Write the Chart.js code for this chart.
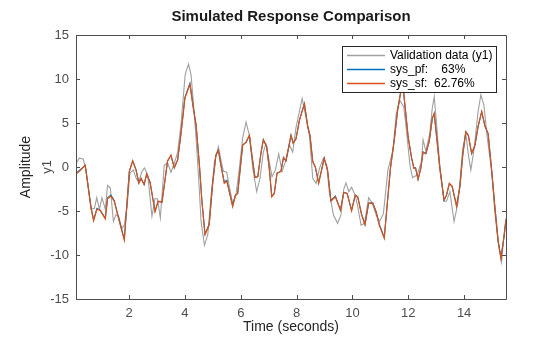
<!DOCTYPE html>
<html>
<head>
<meta charset="utf-8">
<style>
html,body{margin:0;padding:0;background:#fff;}
</style>
<script src="https://cdn.jsdelivr.net/npm/chart.js@4.4.1/dist/chart.umd.min.js"></script>
</head>
<body>
<canvas id="c" width="560" height="337"></canvas>
<script>
const FONT = "'Liberation Sans', Arial, Helvetica, sans-serif";

/* DATA */
const chartTitle = 'Simulated Response Comparison';
const xTicks = [2, 4, 6, 8, 10, 12, 14];
const yTicks = [-15, -10, -5, 0, 5, 10, 15];

const valTime = [
  0.1, 0.22, 0.36, 0.46, 0.64, 0.76, 0.84, 0.94, 1.03, 1.15, 1.23, 1.33, 1.44, 1.53, 1.63, 1.74, 1.83, 1.93,
  2.03, 2.15, 2.27, 2.35, 2.45, 2.55, 2.67, 2.82, 2.93, 3.02, 3.12, 3.26, 3.38, 3.5, 3.62, 3.74, 3.86,
  4.01, 4.13, 4.22, 4.3, 4.4, 4.5, 4.58, 4.7, 4.82, 4.94, 5.06, 5.2, 5.29, 5.38, 5.5, 5.59, 5.71, 5.83, 5.95,
  6.07, 6.19, 6.31, 6.43, 6.57, 6.69, 6.81, 6.9, 7.0, 7.12, 7.24, 7.36, 7.48, 7.6, 7.74, 7.86, 7.98,
  8.2, 8.32, 8.46, 8.58, 8.7, 8.82, 8.96, 9.08, 9.17, 9.32, 9.47, 9.59, 9.69, 9.77, 9.87, 9.97,
  10.1, 10.19, 10.31, 10.43, 10.58, 10.71, 10.85, 10.97, 11.11, 11.27, 11.45, 11.57, 11.7, 11.84, 11.94,
  12.06, 12.15, 12.27, 12.35, 12.47, 12.53, 12.63, 12.77, 12.86, 12.93, 13.01, 13.13, 13.28, 13.37, 13.49, 13.64, 13.79, 13.95,
  14.06, 14.15, 14.24, 14.36, 14.5, 14.6, 14.71, 14.83, 14.99, 15.1, 15.22, 15.34, 15.43, 15.5
];
const valData = [
  0.4, 1.0, 0.9, -0.35, -4.8, -4.7, -3.5, -4.8, -3.5, -4.8, -2.1, -2.4, -6.2, -5.4, -5.6, -7.0, -6.6, -4.5,
  -0.7, -0.35, -1.4, -1.7, -0.6, -0.1, -0.9, -5.6, -3.6, -3.6, -5.8, 0.2, 0.5, -0.6, 0.4, 1.7, 4.8,
  10.5, 11.7, 10.5, 7.4, 3.3, -1.7, -6.2, -8.9, -7.7, -3.2, 0.6, 2.3, 0.8, -0.5, -0.6, -2.2, -4.1, -3.2, -0.15,
  3.3, 5.1, 3.6, -0.15, -2.8, -1.3, 1.7, 2.65, 1.0, -1.1, -0.35, 1.5, -0.5, 0.6, 2.5, 1.7, 4.5,
  7.8, 5.9, 3.6, -1.3, -1.85, -0.15, 1.0, 0.2, -2.8, -5.45, -6.4, -5.45, -2.5, -1.8, -2.8, -2.3,
  -3.2, -4.5, -6.6, -6.4, -3.5, -4.1, -5.45, -6.2, -5.3, -0.35, 1.9, 6.1, 7.6, 6.8, 4.0,
  0.2, -1.2, -1.0, -0.6, 0.6, 3.1, 1.8, 3.8, 6.7, 8.0, 5.0, 0.2, -3.9, -3.9, -2.8, -6.2, -3.9, 2.1,
  3.8, 1.5, -0.35, 2.1, 6.3, 8.2, 7.0, 3.3, -0.6, -5.1, -8.5, -10.8, -7.7, -5.8
];

const simTime = [
  0.1, 0.22, 0.43, 0.64, 0.73, 0.85, 0.96, 1.15, 1.23, 1.35, 1.47, 1.62, 1.83,
  2.01, 2.13, 2.25, 2.35, 2.43, 2.54, 2.63, 2.75, 2.93, 3.04, 3.18, 3.38, 3.5, 3.62, 3.74, 3.86,
  4.0, 4.18, 4.3, 4.4, 4.52, 4.61, 4.72, 4.87, 4.99, 5.11, 5.2, 5.29, 5.41, 5.5, 5.59, 5.71, 5.81, 5.89,
  6.07, 6.19, 6.31, 6.4, 6.51, 6.61, 6.73, 6.81, 6.93, 7.02, 7.11, 7.2, 7.3, 7.44, 7.53, 7.62, 7.8, 7.88, 7.98,
  8.1, 8.28, 8.4, 8.48, 8.58, 8.67, 8.79, 8.99, 9.11, 9.23, 9.39, 9.57, 9.69, 9.81, 9.97,
  10.1, 10.19, 10.33, 10.45, 10.58, 10.73, 10.85, 10.96, 11.14, 11.36, 11.5, 11.62, 11.74, 11.8, 11.88,
  12.0, 12.12, 12.2, 12.26, 12.35, 12.45, 12.53, 12.63, 12.75, 12.86, 12.93, 13.01, 13.13, 13.28, 13.37, 13.47, 13.57, 13.73, 13.85, 13.95,
  14.06, 14.15, 14.27, 14.39, 14.5, 14.63, 14.75, 14.86, 14.99, 15.1, 15.22, 15.32, 15.43, 15.5
];
const sysPf = [
  -0.7, -0.4, 0.2, -4.6, -6.0, -4.7, -4.9, -5.8, -3.5, -3.2, -3.8, -5.7, -8.2,
  -0.5, 0.7, -0.3, -1.8, -1.3, -2.0, -0.8, -1.7, -5.0, -3.9, -4.0, 0.7, 1.3, -0.1, 0.8, 3.8,
  7.9, 9.5, 6.8, 4.8, 0.2, -3.9, -7.6, -6.5, -2.0, 1.3, 1.9, 0.2, -1.7, -1.5, -2.8, -4.4, -3.2, -3.0,
  2.5, 2.8, 3.6, 1.3, -1.2, -1.1, 1.7, 3.1, 2.3, -0.1, -3.3, -3.0, -0.7, -0.5, 1.1, 0.7, 3.6, 2.7, 3.2,
  5.3, 7.2, 4.6, 3.6, 0.6, 0.0, -1.8, 1.0, -0.4, -3.8, -3.3, -4.9, -2.9, -3.0, -4.9,
  -3.2, -3.4, -5.4, -6.5, -4.1, -4.1, -5.1, -6.5, -8.0, -0.2, 3.1, 6.5, 8.7, 9.6, 7.0,
  3.3, 1.0, -0.1, -0.1, -1.4, -0.1, 1.7, 1.5, 2.9, 5.5, 6.1, 3.6, -0.1, -3.8, -3.2, -1.9, -2.2, -4.4, -2.2, 1.3,
  4.0, 3.6, 1.5, 2.5, 4.6, 6.3, 4.6, 3.8, -0.5, -4.5, -8.4, -10.3, -7.9, -6.0
];
const sysSf = [
  -0.8, -0.5, 0.2, -4.7, -6.1, -4.8, -4.9, -5.9, -3.6, -3.3, -3.9, -5.8, -8.3,
  -0.5, 0.7, -0.35, -1.85, -1.3, -2.0, -0.8, -1.7, -5.1, -3.9, -4.0, 0.7, 1.36, -0.08, 0.8, 3.8,
  7.8, 9.4, 6.7, 4.8, 0.2, -3.9, -7.7, -6.6, -2.0, 1.36, 1.9, 0.2, -1.85, -1.6, -2.8, -4.5, -3.2, -3.0,
  2.5, 2.8, 3.6, 1.36, -1.2, -1.1, 1.7, 3.1, 2.3, -0.15, -3.4, -3.0, -0.7, -0.5, 1.06, 0.7, 3.6, 2.7, 3.2,
  5.3, 7.2, 4.6, 3.6, 0.6, 0.04, -1.85, 1.0, -0.35, -3.9, -3.4, -4.9, -2.9, -3.0, -5.0,
  -3.2, -3.4, -5.45, -6.6, -4.1, -4.1, -5.1, -6.6, -8.1, -0.15, 3.1, 6.5, 8.75, 9.6, 7.0,
  3.3, 1.0, -0.15, -0.1, -1.4, -0.15, 1.7, 1.55, 2.9, 5.5, 6.1, 3.6, -0.15, -3.75, -3.2, -1.85, -2.2, -4.5, -2.2, 1.36,
  4.0, 3.6, 1.55, 2.5, 4.6, 6.3, 4.6, 3.8, -0.5, -4.5, -8.5, -10.4, -7.9, -6.0
];

const legendLabels = ['Validation data (y1)', 'sys_pf:    63%', 'sys_sf:  62.76%'];

function pts(ts, vs) {
  return ts.map((t, i) => ({x: t, y: vs[i]}));
}

/* FRAME, INWARD TICKS, TITLE, AXIS LABELS, LEGEND */
const matlabLook = {
  id: 'matlabLook',
  afterDatasetsDraw(chart) {
    const ctx = chart.ctx;
    const a = chart.chartArea;
    const xs = chart.scales.x, ys = chart.scales.y;
    ctx.save();
    ctx.strokeStyle = '#4d4d4d';
    ctx.lineWidth = 1;
    ctx.beginPath();
    ctx.rect(Math.round(a.left) + 0.5, Math.round(a.top) + 0.5, Math.round(a.right - a.left), Math.round(a.bottom - a.top));
    ctx.stroke();
    ctx.beginPath();
    xTicks.forEach(v => {
      const px = Math.round(xs.getPixelForValue(v)) + 0.5;
      ctx.moveTo(px, a.bottom); ctx.lineTo(px, a.bottom - 4);
      ctx.moveTo(px, a.top); ctx.lineTo(px, a.top + 4);
    });
    yTicks.forEach(v => {
      const py = Math.round(ys.getPixelForValue(v)) + 0.5;
      ctx.moveTo(a.left, py); ctx.lineTo(a.left + 4, py);
      ctx.moveTo(a.right, py); ctx.lineTo(a.right - 4, py);
    });
    ctx.stroke();

    // title, centred over the axes
    ctx.fillStyle = '#1a1a1a';
    ctx.font = 'bold 15px ' + FONT;
    ctx.textAlign = 'center';
    ctx.textBaseline = 'middle';
    ctx.fillText(chartTitle, (a.left + a.right) / 2, 17);

    // y labels
    const midY = (a.top + a.bottom) / 2;
    ctx.translate(26, midY);
    ctx.rotate(-Math.PI / 2);
    ctx.fillStyle = '#262626';
    ctx.font = '14px ' + FONT;
    ctx.fillText('Amplitude', 0, 0);
    ctx.fillStyle = '#4d4d4d';
    ctx.font = '13px ' + FONT;
    ctx.fillText('y1', 0, 21);
    ctx.restore();

    // legend
    ctx.save();
    const lx = 342, ly = 46, lw = 154, lh = 46;
    ctx.fillStyle = '#fff';
    ctx.fillRect(lx, ly, lw, lh);
    ctx.strokeStyle = '#262626';
    ctx.lineWidth = 1;
    ctx.strokeRect(lx + 0.5, ly + 0.5, lw, lh);
    ctx.font = '12px ' + FONT;
    ctx.textBaseline = 'middle';
    ctx.textAlign = 'left';
    chart.data.datasets.forEach((ds, i) => {
      const ry = ly + 9.5 + i * 14;
      ctx.strokeStyle = ds.borderColor;
      ctx.lineWidth = 1.5;
      ctx.beginPath();
      ctx.moveTo(lx + 5, ry); ctx.lineTo(lx + 43, ry);
      ctx.stroke();
      ctx.fillStyle = '#000';
      ctx.fillText(legendLabels[i], lx + 48, ry);
    });
    ctx.restore();
  }
};

new Chart(document.getElementById('c'), {
  type: 'line',
  data: {
    datasets: [
      {label: legendLabels[0], data: pts(valTime, valData), borderColor: '#a0a0a0', borderWidth: 1.1, pointRadius: 0, tension: 0, order: 3},
      {label: legendLabels[1], data: pts(simTime, sysPf), borderColor: '#0072bd', borderWidth: 1.1, pointRadius: 0, tension: 0, order: 2},
      {label: legendLabels[2], data: pts(simTime, sysSf), borderColor: '#d95319', borderWidth: 1.2, pointRadius: 0, tension: 0, order: 1}
    ]
  },
  options: {
    responsive: false,
    animation: false,
    layout: {padding: {left: 0, right: 54, top: 35, bottom: 0}},
    plugins: {
      legend: {display: false},
      tooltip: {enabled: false},
      title: {display: false}
    },
    scales: {
      x: {
        type: 'linear',
        min: 0.1,
        max: 15.5,
        grid: {display: false, drawTicks: false},
        border: {display: false},
        afterBuildTicks: s => { s.ticks = xTicks.map(v => ({value: v})); },
        afterFit: s => { s.height = 38; },
        ticks: {color: '#4d4d4d', font: {family: FONT, size: 13}, padding: 7, maxRotation: 0, autoSkip: false},
        title: {display: true, text: 'Time (seconds)', color: '#262626', font: {family: FONT, size: 14}, padding: {top: 0, bottom: 1}}
      },
      y: {
        min: -15,
        max: 15,
        grid: {display: false, drawTicks: false},
        border: {display: false},
        afterBuildTicks: s => { s.ticks = yTicks.map(v => ({value: v})); },
        afterFit: s => { s.width = 76; },
        ticks: {color: '#4d4d4d', font: {family: FONT, size: 13}, padding: 7}
      }
    }
  },
  plugins: [matlabLook]
});
</script>
</body>
</html>
